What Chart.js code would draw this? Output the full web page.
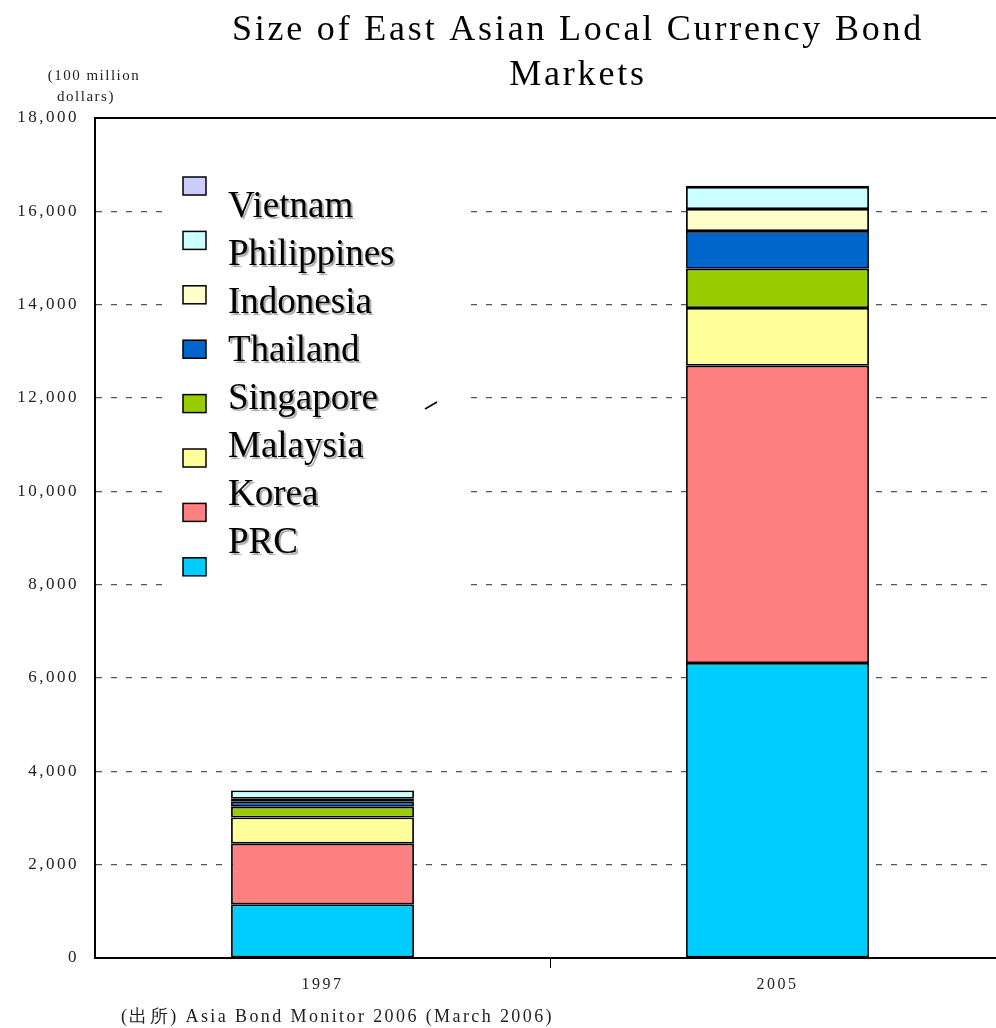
<!DOCTYPE html>
<html>
<head>
<meta charset="utf-8">
<script src="https://cdn.jsdelivr.net/npm/chart.js@4.4.1/dist/chart.umd.min.js"></script>
<style>
  html, body { margin: 0; padding: 0; background: #fff; overflow: hidden; }
  #wrap { width: 996px; height: 1028px; position: relative; }
</style>
</head>
<body>
<div id="wrap"><canvas id="bond-chart"></canvas></div>
<script>
// data (100 million dollars)
var years = ["1997", "2005"];
var series_names = ["PRC", "Korea", "Malaysia", "Singapore", "Thailand", "Indonesia", "Philippines", "Vietnam"];
var series_colors = ["#00ccff", "#ff8080", "#ffff99", "#99cc00", "#0066cc", "#ffffcc", "#ccffff", "#ccccff"];
var prc = [1150, 6320];
var korea = [1300, 6370];
var malaysia = [560, 1240];
var singapore = [230, 840];
var thailand = [110, 810];
var indonesia = [60, 470];
var philippines = [180, 470];
var vietnam = [5, 30];
var y_ticks = [0, 2000, 4000, 6000, 8000, 10000, 12000, 14000, 16000, 18000];

var title_lines = ["Size of East Asian Local Currency Bond", "Markets"];
var unit_lines = ["(100 million", "dollars)"];
var source_text = "(出所) Asia Bond Monitor 2006 (March 2006)";

var serif = "'Liberation Serif', 'DejaVu Serif', serif";
var all_values = [prc, korea, malaysia, singapore, thailand, indonesia, philippines, vietnam];

var datasets = [];
for (let i = 0; i < series_names.length; i++) {
    datasets.push({
        label: series_names[i],
        data: all_values[i],
        backgroundColor: series_colors[i],
        borderColor: "#000",
        borderWidth: 1.8,
        borderSkipped: false,
        categoryPercentage: 1,
        barPercentage: 0.402,
    });
}

// plot area runs a little past the right edge of the canvas, like the original
var widenPlugin = {
    id: "widen",
    afterLayout: function(chart) {
        const xs = chart.scales.x;
        xs.right = 1005;
        xs.width = xs.right - xs.left;
        xs.configure();
        chart.chartArea.right = 1005;
        chart.chartArea.width = chart.chartArea.right - chart.chartArea.left;
    },
};

// titles, unit label, source line and the boxed legend
var decorPlugin = {
    id: "decor",
    beforeDraw: function(chart) {
        chart.ctx.letterSpacing = "2.5px";
    },
    afterDatasetsDraw: function(chart) {
        const ctx = chart.ctx;
        const area = chart.chartArea;
        ctx.save();
        ctx.letterSpacing = "0px";
        // white legend box hides the grid behind it
        ctx.fillStyle = "#fff";
        ctx.fillRect(165, 165, 297, 431);
        // stray mark in the original
        ctx.strokeStyle = "#000";
        ctx.lineWidth = 1.5;
        ctx.beginPath();
        ctx.moveTo(425, 409);
        ctx.lineTo(437, 402);
        ctx.stroke();
        for (let k = 0; k < series_names.length; k++) {
            const i = series_names.length - 1 - k;
            const my = 177 + k * 54.4;
            ctx.fillStyle = series_colors[i];
            ctx.fillRect(183, my, 23, 18);
            ctx.strokeStyle = "#000";
            ctx.lineWidth = 1.5;
            ctx.strokeRect(183, my, 23, 18);
            ctx.save();
            ctx.font = "37px " + serif;
            ctx.textAlign = "left";
            ctx.textBaseline = "alphabetic";
            ctx.shadowColor = "rgba(0,0,0,0.35)";
            ctx.shadowOffsetX = 2;
            ctx.shadowOffsetY = 2;
            ctx.shadowBlur = 1;
            ctx.fillStyle = "#000";
            ctx.fillText(series_names[i], 228, 217 + k * 48);
            ctx.restore();
        }
        // top frame line
        ctx.strokeStyle = "#000";
        ctx.lineWidth = 2;
        ctx.beginPath();
        ctx.moveTo(area.left, area.top);
        ctx.lineTo(996, area.top);
        ctx.stroke();
        ctx.restore();
    },
    afterDraw: function(chart) {
        const ctx = chart.ctx;
        ctx.save();
        ctx.fillStyle = "#000";
        ctx.textBaseline = "alphabetic";
        ctx.textAlign = "center";
        ctx.font = "36px " + serif;
        ctx.letterSpacing = "2.8px";
        ctx.fillText(title_lines[0], 578, 40);
        ctx.fillText(title_lines[1], 578, 85);
        ctx.font = "15px " + serif;
        ctx.letterSpacing = "1.5px";
        ctx.fillStyle = "#222";
        ctx.fillText(unit_lines[0], 94, 80);
        ctx.fillText(unit_lines[1], 86, 101);
        ctx.textAlign = "left";
        ctx.font = "18px " + serif;
        ctx.letterSpacing = "2.4px";
        ctx.fillText(source_text, 121, 1022);
        ctx.restore();
    },
};

const ctx = document.getElementById("bond-chart").getContext("2d");
const myChart = new Chart(ctx, {
    type: "bar",
    data: {
        labels: years,
        datasets: datasets,
    },
    options: {
        responsive: true,
        maintainAspectRatio: false,
        animation: false,
        layout: {
            padding: { top: 118, right: 1, bottom: 0, left: 0 },
        },
        plugins: {
            legend: { display: false },
            title: { display: false },
            tooltip: { enabled: false },
        },
        scales: {
            x: {
                stacked: true,
                afterFit: function(s) { s.height = 70; },
                grid: {
                    offset: true,
                    drawOnChartArea: false,
                    tickLength: 10,
                    color: function(c) { return c.index === 1 ? "#000" : "rgba(0,0,0,0)"; },
                },
                border: { color: "#000", width: 2 },
                ticks: {
                    padding: 7,
                    color: "#222",
                    font: { family: serif, size: 16 },
                },
            },
            y: {
                stacked: true,
                min: 0,
                max: 18000,
                afterFit: function(s) { s.width = 95; },
                afterBuildTicks: function(s) {
                    s.ticks = y_ticks.map(function(v) { return { value: v }; });
                },
                grid: {
                    drawTicks: false,
                    color: function(c) { return c.tick && c.tick.value === 0 ? "rgba(0,0,0,0)" : "#555"; },
                    lineWidth: 1.2,
                },
                border: { color: "#000", width: 2, dash: [6, 9] },
                ticks: {
                    padding: 16,
                    color: "#222",
                    font: { family: serif, size: 17 },
                    callback: function(v) { return v.toLocaleString("en-US"); },
                },
            },
        },
    },
    plugins: [widenPlugin, decorPlugin],
});
</script>
</body>
</html>
